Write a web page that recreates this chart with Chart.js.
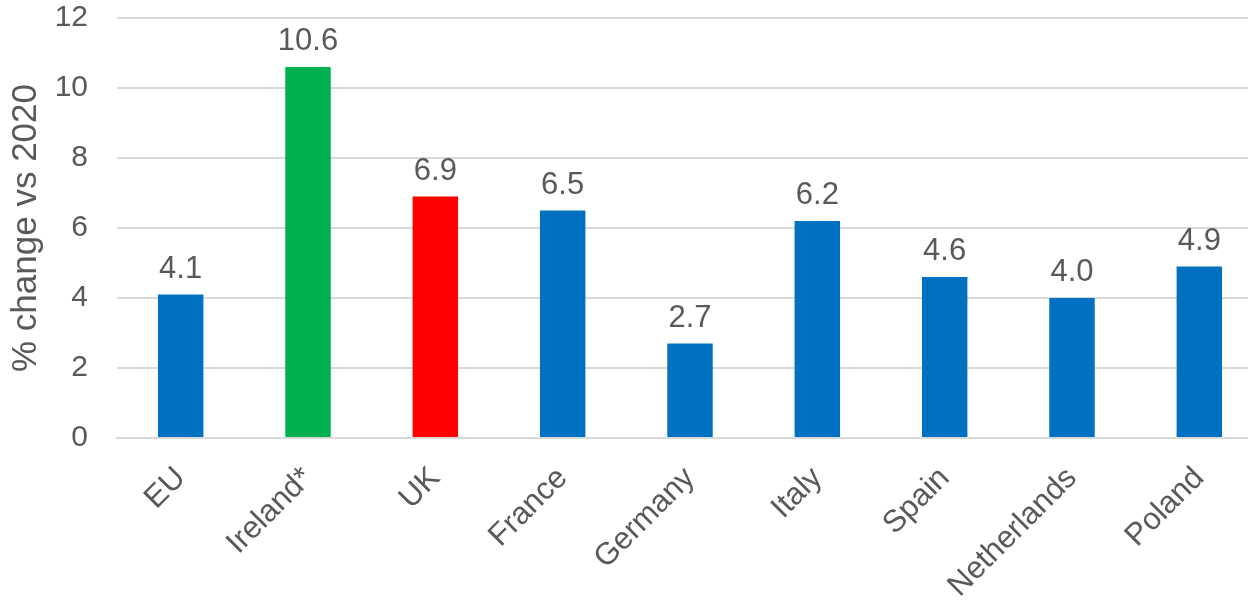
<!DOCTYPE html>
<html>
<head>
<meta charset="utf-8">
<script src="https://cdn.jsdelivr.net/npm/chart.js@4/dist/chart.umd.min.js"></script>
<style>
  html, body { margin: 0; padding: 0; background: #fff; overflow: hidden; }
  #wrap { width: 1248px; height: 600px; overflow: hidden; }
</style>
</head>
<body>
<!-- the source plot runs a little past the right edge, so the canvas is wider than the frame -->
<div id="wrap"><canvas id="chart" width="1263" height="600"></canvas></div>
<script>
const countries = ['EU', 'Ireland*', 'UK', 'France', 'Germany', 'Italy', 'Spain', 'Netherlands', 'Poland']
const changeVs2020 = [4.1, 10.6, 6.9, 6.5, 2.7, 6.2, 4.6, 4.0, 4.9]
const barColors = ['#0070C0', '#00B050', '#FF0000', '#0070C0', '#0070C0', '#0070C0', '#0070C0', '#0070C0', '#0070C0']
const yTicks = [0, 2, 4, 6, 8, 10, 12]

const textColor = '#595959'
const fontFamily = '"Liberation Sans", Arial, sans-serif'

// value labels on top of the bars
const barLabels = {
  id: 'barLabels',
  afterDatasetsDraw(chart) {
    const ctx = chart.ctx
    const meta = chart.getDatasetMeta(0)
    ctx.save()
    ctx.font = '31px ' + fontFamily
    ctx.fillStyle = textColor
    ctx.textAlign = 'center'
    ctx.textBaseline = 'alphabetic'
    meta.data.forEach((bar, i) => {
      ctx.fillText(changeVs2020[i].toFixed(1), bar.x, bar.y - 17)
    })
    ctx.restore()
  },
}

new Chart(document.getElementById('chart'), {
  type: 'bar',
  data: {
    labels: countries,
    datasets: [
      {
        data: changeVs2020,
        backgroundColor: barColors,
        borderWidth: 0,
        categoryPercentage: 1,
        barPercentage: 0.357,
      },
    ],
  },
  options: {
    responsive: false,
    animation: false,
    devicePixelRatio: 1,
    layout: { padding: { top: 18, right: 0, left: 0, bottom: 0 } },
    plugins: { legend: { display: false }, tooltip: { enabled: false } },
    scales: {
      x: {
        grid: { display: false },
        border: { color: '#d9d9d9', width: 2 },
        ticks: {
          color: textColor,
          font: { size: 31, family: fontFamily },
          minRotation: 45,
          maxRotation: 45,
          padding: 14,
        },
        afterFit: (axis) => {
          axis.height = 162
          axis.paddingLeft = 0
          axis.paddingRight = 0
        },
      },
      y: {
        min: 0,
        max: 12,
        afterBuildTicks: (axis) => {
          axis.ticks = yTicks.map((v) => ({ value: v }))
        },
        grid: { color: '#d9d9d9', lineWidth: 2, drawTicks: false },
        border: { display: false },
        ticks: {
          color: textColor,
          font: { size: 30, family: fontFamily },
          padding: 29,
        },
        title: {
          display: true,
          text: '% change vs 2020',
          color: textColor,
          font: { size: 35, family: fontFamily },
          padding: { top: 5, bottom: 0 },
        },
        afterFit: (axis) => {
          axis.width = 117
          axis.paddingTop = 0
          axis.paddingBottom = 0
        },
      },
    },
  },
  plugins: [barLabels],
})
</script>
</body>
</html>
